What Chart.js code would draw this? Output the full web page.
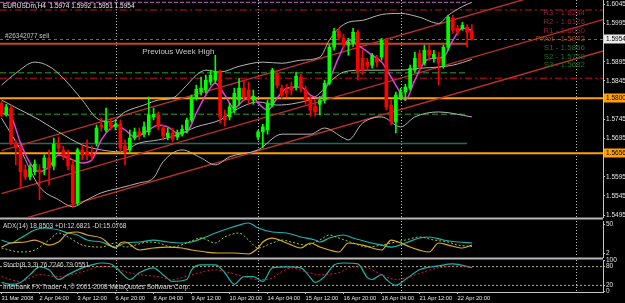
<!DOCTYPE html>
<html>
<head>
<meta charset="utf-8">
<title>EURUSDm,H4</title>
<script src="https://cdn.jsdelivr.net/npm/chart.js@4.4.1/dist/chart.umd.min.js"></script>
<style>
  html, body { margin: 0; padding: 0; background: #000; }
  #terminal { position: relative; width: 625px; height: 303px; background: #000; overflow: hidden; }
  #terminal canvas { position: absolute; left: 0; top: 0; }
</style>
</head>
<body>
<div id="terminal">
  <canvas id="priceChart" width="625" height="303"></canvas>
  <canvas id="adxChart" width="625" height="303"></canvas>
  <canvas id="stochChart" width="625" height="303"></canvas>
</div>
<script>
// ---- data ----
const symbol = 'EURUSDm,H4';
const timeLabels = ['31 Mar 2008', '2 Apr 04:00', '3 Apr 12:00', '6 Apr 20:00', '8 Apr 04:00', '9 Apr 12:00',
  '10 Apr 20:00', '14 Apr 04:00', '15 Apr 12:00', '16 Apr 20:00', '18 Apr 04:00', '21 Apr 12:00', '22 Apr 20:00'];
const labelEvery = 8; // bars between time labels

const opens = [1.5787, 1.5756, 1.5774, 1.5683, 1.5670, 1.5613, 1.5595, 1.5608, 1.5613, 1.5618,
  1.5644, 1.5623, 1.5680, 1.5665, 1.5652, 1.5626, 1.5527, 1.5665, 1.5660, 1.5654,
  1.5683, 1.5730, 1.5717, 1.5735, 1.5725, 1.5732, 1.5675, 1.5665, 1.5696, 1.5712,
  1.5706, 1.5712, 1.5751, 1.5756, 1.5722, 1.5699, 1.5709, 1.5699, 1.5706, 1.5717,
  1.5743, 1.5800, 1.5816, 1.5821, 1.5842, 1.5847, 1.5868, 1.5753, 1.5751, 1.5769,
  1.5795, 1.5826, 1.5821, 1.5795, 1.5699, 1.5712, 1.5717, 1.5782, 1.5865, 1.5826,
  1.5821, 1.5829, 1.5829, 1.5855, 1.5821, 1.5795, 1.5779, 1.5784, 1.5795, 1.5839,
  1.5933, 1.5974, 1.5956, 1.5938, 1.5943, 1.5972, 1.5904, 1.5894, 1.5886, 1.5904,
  1.5907, 1.5951, 1.5782, 1.5738, 1.5803, 1.5816, 1.5826, 1.5873, 1.5917, 1.5891,
  1.5925, 1.5904, 1.5907, 1.5886, 1.5933, 1.6008, 1.5982, 1.5982, 1.5985, 1.5974];
const highs = [1.5792, 1.5784, 1.5782, 1.5691, 1.5675, 1.5626, 1.5626, 1.5639, 1.5626, 1.5652,
  1.5665, 1.5696, 1.5699, 1.5675, 1.5665, 1.5639, 1.5670, 1.5678, 1.5691, 1.5675,
  1.5730, 1.5748, 1.5774, 1.5748, 1.5743, 1.5743, 1.5691, 1.5717, 1.5722, 1.5722,
  1.5738, 1.5803, 1.5774, 1.5764, 1.5730, 1.5722, 1.5722, 1.5717, 1.5730, 1.5748,
  1.5808, 1.5834, 1.5855, 1.5860, 1.5873, 1.5912, 1.5873, 1.5769, 1.5787, 1.5826,
  1.5852, 1.5847, 1.5842, 1.5821, 1.5717, 1.5732, 1.5795, 1.5878, 1.5873, 1.5834,
  1.5836, 1.5842, 1.5868, 1.5862, 1.5831, 1.5805, 1.5795, 1.5805, 1.5847, 1.5940,
  1.5982, 1.5982, 1.5966, 1.5956, 1.5982, 1.5977, 1.5925, 1.5904, 1.5917, 1.5912,
  1.5956, 1.5956, 1.5795, 1.5816, 1.5826, 1.5836, 1.5886, 1.5920, 1.5925, 1.5938,
  1.5938, 1.5925, 1.5920, 1.5938, 1.6016, 1.6016, 1.5990, 1.5998, 1.5992, 1.5992];
const lows = [1.5751, 1.5753, 1.5678, 1.5626, 1.5566, 1.5587, 1.5587, 1.5600, 1.5535, 1.5600,
  1.5574, 1.5613, 1.5660, 1.5639, 1.5613, 1.5514, 1.5522, 1.5639, 1.5639, 1.5639,
  1.5675, 1.5714, 1.5712, 1.5717, 1.5717, 1.5660, 1.5626, 1.5657, 1.5691, 1.5691,
  1.5699, 1.5704, 1.5743, 1.5717, 1.5691, 1.5691, 1.5686, 1.5691, 1.5701, 1.5709,
  1.5738, 1.5795, 1.5808, 1.5813, 1.5834, 1.5839, 1.5735, 1.5727, 1.5743, 1.5761,
  1.5782, 1.5795, 1.5784, 1.5784, 1.5691, 1.5670, 1.5706, 1.5777, 1.5826, 1.5800,
  1.5803, 1.5808, 1.5821, 1.5816, 1.5784, 1.5753, 1.5753, 1.5756, 1.5787, 1.5834,
  1.5925, 1.5951, 1.5930, 1.5912, 1.5935, 1.5847, 1.5862, 1.5873, 1.5878, 1.5883,
  1.5899, 1.5769, 1.5730, 1.5709, 1.5795, 1.5795, 1.5821, 1.5868, 1.5873, 1.5886,
  1.5899, 1.5894, 1.5834, 1.5878, 1.5925, 1.5969, 1.5964, 1.5977, 1.5933, 1.5951];
const closes = [1.5756, 1.5777, 1.5683, 1.5670, 1.5608, 1.5595, 1.5618, 1.5628, 1.5608, 1.5644,
  1.5618, 1.5680, 1.5670, 1.5649, 1.5623, 1.5527, 1.5665, 1.5652, 1.5652, 1.5649,
  1.5722, 1.5725, 1.5738, 1.5725, 1.5732, 1.5670, 1.5660, 1.5696, 1.5712, 1.5704,
  1.5725, 1.5756, 1.5758, 1.5725, 1.5701, 1.5709, 1.5693, 1.5709, 1.5719, 1.5743,
  1.5803, 1.5823, 1.5826, 1.5847, 1.5860, 1.5868, 1.5751, 1.5743, 1.5777, 1.5813,
  1.5826, 1.5803, 1.5795, 1.5805, 1.5712, 1.5725, 1.5787, 1.5873, 1.5834, 1.5808,
  1.5813, 1.5821, 1.5857, 1.5826, 1.5795, 1.5769, 1.5764, 1.5795, 1.5839, 1.5933,
  1.5974, 1.5959, 1.5938, 1.5946, 1.5972, 1.5868, 1.5873, 1.5883, 1.5912, 1.5894,
  1.5951, 1.5777, 1.5738, 1.5808, 1.5816, 1.5829, 1.5878, 1.5904, 1.5881, 1.5925,
  1.5912, 1.5914, 1.5891, 1.5933, 1.6011, 1.5977, 1.5972, 1.5990, 1.5972, 1.5954];

// magenta moving average and Bollinger bands (bar index, price)
const maIdx = [0, 2, 4, 6, 8, 10, 12, 14, 17, 19, 21, 23, 24, 26, 28, 30, 32, 33, 35, 37, 39, 41, 43, 45, 47,
  49, 51, 53, 54, 56, 58, 60, 63, 65, 67, 69, 71, 73, 76, 78, 80, 82, 84, 85, 87, 89, 91, 93, 95, 97, 99];
const maVal = [1.5761, 1.5751, 1.5683, 1.5631, 1.5608, 1.5621, 1.5652, 1.5644, 1.5631, 1.5639, 1.5691, 1.5722, 1.5730,
  1.5717, 1.5699, 1.5709, 1.5725, 1.5730, 1.5725, 1.5709, 1.5712, 1.5761, 1.5808, 1.5839, 1.5808, 1.5774, 1.5795,
  1.5803, 1.5787, 1.5769, 1.5800, 1.5826, 1.5829, 1.5808, 1.5800, 1.5847, 1.5907, 1.5951, 1.5930, 1.5912, 1.5894,
  1.5855, 1.5813, 1.5795, 1.5847, 1.5894, 1.5904, 1.5907, 1.5951, 1.5982, 1.5977];
const bbUpperIdx = [0, 3, 7, 10, 13, 17, 20, 23, 26, 30, 33, 36, 39, 41, 43, 46, 50, 55, 59, 63, 67, 69, 71, 73, 76,
  80, 84, 88, 92, 94, 97, 99];
const bbUpper = [1.5834, 1.5865, 1.5894, 1.5883, 1.5852, 1.5795, 1.5748, 1.5738, 1.5764, 1.5782, 1.5795, 1.5800,
  1.5834, 1.5860, 1.5873, 1.5868, 1.5883, 1.5894, 1.5891, 1.5899, 1.5907, 1.5951, 1.5982, 1.5998, 1.6003, 1.6018,
  1.6021, 1.6011, 1.5995, 1.6016, 1.6039, 1.6050];
const bbMidIdx = [0, 4, 8, 12, 17, 21, 25, 29, 33, 37, 41, 46, 50, 54, 58, 62, 66, 68, 70, 72, 76, 80, 84, 88, 92, 95, 99];
const bbMid = [1.5795, 1.5769, 1.5743, 1.5712, 1.5678, 1.5665, 1.5660, 1.5683, 1.5691, 1.5704, 1.5725, 1.5743,
  1.5774, 1.5790, 1.5782, 1.5787, 1.5803, 1.5826, 1.5852, 1.5868, 1.5873, 1.5873, 1.5873, 1.5878, 1.5881, 1.5886, 1.5901];
const bbLowerIdx = [0, 4, 8, 12, 15, 18, 21, 25, 29, 32, 34, 38, 42, 45, 48, 54, 59, 65, 68, 72, 73, 76, 80, 84, 87, 92, 99];
const bbLower = [1.5748, 1.5665, 1.5569, 1.5535, 1.5517, 1.5535, 1.5553, 1.5566, 1.5579, 1.5592, 1.5634, 1.5665,
  1.5644, 1.5626, 1.5647, 1.5665, 1.5706, 1.5706, 1.5722, 1.5696, 1.5691, 1.5735, 1.5751, 1.5725, 1.5751, 1.5764, 1.5751];

// rising channel: three parallel trend lines, price at the first and last bar of the view
const channelFrom = 0, channelTo = 126.6;
const channelStart = [1.5663, 1.5551, 1.5469];
const channelEnd = [1.6117, 1.6005, 1.5923];

// daily pivots (drawn up to the current bar) and other horizontal levels
const pivotNames = ['R3', 'R2', 'R1', 'Pivot', 'S1', 'S2', 'S3'];
const pivotValues = [1.6234, 1.6126, 1.6050, 1.5942, 1.5866, 1.5758, 1.5682];
const pivotEnd = 98;
const dashDotLevels = [1.6030, 1.5852];
const orangeLevels = [1.5800, 1.5656];
const orderTicket = '26342077';
const orderPrice = 1.5953;
const weekStarts = [24, 54, 84, 121];
const priceTicks = [1.6045, 1.5995, 1.5895, 1.5845, 1.5745, 1.5695, 1.5595, 1.5545, 1.5495];

// ADX(14)
const adxLast = [18.8503, 12.6821, 15.0768];
const adxTicks = [50, 2];
const adxIdx = [0, 2, 4, 7, 9, 12, 14, 16, 18, 21, 24, 26, 29, 32, 35, 38, 40, 43, 45, 48, 50, 52, 54, 57, 60,
  63, 66, 67, 69, 72, 74, 77, 80, 82, 85, 88, 90, 93, 96, 99];
const adxVal = [23.5, 18.6, 26.8, 40.1, 43.4, 40.1, 35.1, 31.8, 23.5, 20.2, 11.9, 18.6, 20.2, 23.5, 20.2, 18.6,
  20.2, 28.5, 35.1, 43.4, 48.3, 51.7, 43.4, 36.8, 35.1, 28.5, 23.5, 20.2, 26.8, 31.8, 26.8, 20.2, 15.2, 11.9,
  18.6, 26.8, 28.5, 23.5, 20.2, 18.8503];
const plusDiIdx = [0, 4, 7, 10, 12, 14, 17, 21, 24, 26, 31, 33, 36, 39, 42, 45, 47, 50, 52, 54, 57, 59, 61, 64,
  67, 69, 71, 74, 77, 80, 82, 85, 88, 91, 94, 96, 99];
const plusDiVal = [10.3, 3.7, 7.0, 23.5, 35.1, 28.5, 15.2, 11.9, 18.6, 11.9, 20.2, 18.6, 11.9, 18.6, 26.8, 18.6,
  28.5, 35.1, 23.5, 10.3, 18.6, 23.5, 20.2, 15.2, 23.5, 31.8, 26.8, 18.6, 11.9, 15.2, 18.6, 23.5, 28.5, 23.5,
  20.2, 15.2, 12.6821];
const minusDiIdx = [0, 2, 5, 7, 10, 12, 14, 16, 18, 21, 24, 25, 26, 29, 32, 35, 38, 40, 43, 46, 49, 52, 54, 55,
  57, 60, 63, 65, 67, 69, 71, 73, 76, 80, 82, 84, 86, 90, 92, 94, 97, 99];
const minusDiVal = [11.9, 18.6, 20.2, 23.5, 15.2, 20.2, 35.1, 36.8, 31.8, 26.8, 10.3, 18.6, 20.2, 7.0, 10.3, 11.9,
  10.3, 7.0, 3.7, 2.0, 2.0, 0.4, 10.3, 20.2, 26.8, 18.6, 10.3, 18.6, 11.9, 7.0, 3.7, 18.6, 15.2, 7.0, 23.5, 18.6,
  11.9, 3.7, 18.6, 15.2, 10.3, 15.0768];

// Stochastic(8,3,3)
const stochLast = [76.7246, 79.0551];
const stochTicks = [100, 80, 20, 0];
const stochLevels = [80, 20];
const stochIdx = [0, 2, 4, 6, 8, 10, 12, 14, 17, 19, 21, 23, 25, 27, 29, 32, 34, 36, 39, 40, 42, 45, 47, 49, 51,
  53, 55, 57, 60, 63, 65, 66, 68, 70, 72, 75, 77, 78, 80, 81, 83, 85, 88, 92, 95, 99];
const stochMain = [29.5, 23.3, 29.5, 54.3, 79.1, 69.8, 38.8, 54.3, 76.0, 85.3, 91.5, 88.4, 63.6, 38.8, 60.5, 76.0,
  54.3, 32.6, 38.8, 69.8, 85.3, 85.3, 60.5, 23.3, 48.1, 48.1, 32.6, 76.0, 79.1, 76.0, 45.0, 29.5, 48.1, 85.3,
  91.5, 88.4, 45.0, 38.8, 54.3, 38.8, 20.2, 38.8, 69.8, 82.2, 88.4, 76.7246];
const signalIdx = [0, 4, 8, 12, 17, 21, 23, 26, 29, 33, 36, 40, 45, 48, 51, 54, 56, 59, 61, 64, 67, 71, 74, 77,
  80, 83, 86, 89, 92, 96, 99];
const stochSignal = [48.1, 32.6, 54.3, 48.1, 63.6, 79.1, 79.1, 63.6, 54.3, 48.1, 38.8, 54.3, 69.8, 60.5, 48.1,
  38.8, 38.8, 63.6, 76.0, 63.6, 54.3, 60.5, 79.1, 76.0, 54.3, 38.8, 48.1, 63.6, 76.0, 82.2, 79.0551];

// ---- chart setup ----
Chart.defaults.font.family = '"Liberation Sans", Arial, sans-serif';
Chart.defaults.color = '#e0e0e0';

const xMin = -0.32, xMax = 126.6;
const axisWidth = 22;
const frameGrey = '#c4c4c4';
const bull = '#00ff00', bear = '#ff0000';
const candleColor = c => closes[c.dataIndex] >= opens[c.dataIndex] ? bull : bear;

function points(idx, vals) {
  return idx.map((x, k) => ({ x, y: vals[k] }));
}

function curve(data, color, width, dash) {
  return { type: 'line', data, borderColor: color, borderWidth: width, borderDash: dash || [],
    pointRadius: 0, cubicInterpolationMode: 'monotone', order: 2 };
}

function level(price, from, to, color, width, dash) {
  return { type: 'line', data: [{ x: from, y: price }, { x: to, y: price }], borderColor: color,
    borderWidth: width, borderDash: dash || [], pointRadius: 0, order: 4 };
}

function hiddenX() {
  return { type: 'linear', min: xMin, max: xMax, offset: false, display: false };
}

function rightAxis(min, max, values, fmt) {
  return {
    position: 'right', min, max,
    afterBuildTicks: s => { s.ticks = values.map(v => ({ value: v })); },
    afterFit: s => { s.width = axisWidth; s.paddingTop = 0; s.paddingBottom = 0; },
    grid: { drawOnChartArea: false, drawTicks: true, tickLength: 2, color: frameGrey },
    border: { display: true, color: frameGrey },
    ticks: { padding: 1, autoSkip: false, font: { size: 6.5 }, color: '#e4e4e4', callback: fmt }
  };
}

function baseOptions(padding, scales) {
  return {
    responsive: false, animation: false, events: [],
    layout: { padding },
    plugins: { legend: { display: false }, tooltip: { enabled: false } },
    scales
  };
}

function drawWeekLines(chart) {
  const { ctx, chartArea: a, scales: { x } } = chart;
  ctx.save();
  ctx.strokeStyle = '#bcbcbc';
  ctx.lineWidth = 1;
  ctx.setLineDash([1, 2]);
  weekStarts.forEach(v => {
    const px = Math.round(x.getPixelForValue(v)) + 0.5;
    ctx.beginPath();
    ctx.moveTo(px, a.top);
    ctx.lineTo(px, a.bottom);
    ctx.stroke();
  });
  ctx.restore();
}

function pivotLineStyle(name) {
  if (name === 'Pivot') return ['#c4461e', 2, []];
  if (name === 'S3') return ['#1d6b5d', 1.5, []];
  if (name[0] === 'S') return ['#1f6a1f', 1.5, [6, 3]];
  return ['#c464c4', 1, [4, 2]];
}

function pivotTextColor(name) {
  if (name === 'Pivot') return '#a8461a';
  return name[0] === 'S' ? '#1f6e1f' : '#93203c';
}

// ---- price window ----
const priceDatasets = [
  { type: 'bar', data: lows.map((l, i) => ({ x: i, y: [l, highs[i]] })), backgroundColor: candleColor,
    barThickness: 1, grouped: false, borderWidth: 0, order: 1 },
  { type: 'bar', data: opens.map((o, i) => ({ x: i, y: [o, closes[i]] })), backgroundColor: candleColor,
    barThickness: 3, minBarLength: 1, grouped: false, borderWidth: 0, order: 0 },
  curve(points(maIdx, maVal), '#e040e0', 1.5),
  curve(points(bbUpperIdx, bbUpper), '#b4b4b4', 1),
  curve(points(bbMidIdx, bbMid), '#b4b4b4', 1),
  curve(points(bbLowerIdx, bbLower), '#b4b4b4', 1)
];
channelStart.forEach((p, k) => {
  priceDatasets.push({ type: 'line', data: [{ x: channelFrom, y: p }, { x: channelTo, y: channelEnd[k] }],
    borderColor: '#b8322a', borderWidth: 1.4, pointRadius: 0, order: 3 });
});
pivotNames.forEach((n, k) => {
  const [c, w, d] = pivotLineStyle(n);
  priceDatasets.push(level(pivotValues[k], xMin, pivotEnd, c, w, d));
});
dashDotLevels.forEach(p => priceDatasets.push(level(p, xMin, xMax, '#cc1020', 1, [7, 3, 2, 3])));
orangeLevels.forEach(p => priceDatasets.push(level(p, xMin, xMax, '#ffa200', 2)));
priceDatasets.push(level(orderPrice, xMin, xMax, '#2f9a2f', 1, [3, 3]));

const priceDecor = {
  id: 'priceDecor',
  beforeDatasetsDraw: drawWeekLines,
  afterDraw(chart) {
    const { ctx, chartArea: a, scales: { x, y } } = chart;
    const last = opens.length - 1;
    ctx.save();
    ctx.fillStyle = '#b8b8b8';
    ctx.fillRect(0, a.bottom + 0.5, a.right, 2);
    ctx.textBaseline = 'middle';
    ctx.font = '6.5px "Liberation Sans"';
    ctx.fillStyle = '#e8e8e8';
    ctx.fillText(`${symbol}  ${opens[last].toFixed(4)} ${highs[last].toFixed(4)} ${lows[last].toFixed(4)} ${closes[last].toFixed(4)}`, 3, 6);
    ctx.fillStyle = '#c8c8c8';
    ctx.fillText(`#${orderTicket} sell`, 5, y.getPixelForValue(orderPrice) - 3.5);
    ctx.font = '8px "Liberation Sans"';
    ctx.fillText('Previous Week High', x.getPixelForValue(29.6), y.getPixelForValue(1.5920));
    ctx.font = '8px "Liberation Sans"';
    ctx.textAlign = 'right';
    pivotNames.forEach((n, k) => {
      ctx.fillStyle = pivotTextColor(n);
      ctx.fillText(`${n} - ${pivotValues[k].toFixed(4)}`, a.right - 18, 13 + k * 8.7);
    });
    // marked prices on the axis
    ctx.textAlign = 'left';
    ctx.font = '6.5px "Liberation Sans"';
    [closes[last]].concat(orangeLevels).forEach((p, k) => {
      const py = Math.round(y.getPixelForValue(p));
      ctx.fillStyle = k === 0 ? '#ececec' : '#ffa200';
      ctx.fillRect(a.right + 1, py - 4.5, axisWidth - 1, 9);
      ctx.fillStyle = '#000';
      ctx.fillText(p.toFixed(4), a.right + 3, py);
    });
    ctx.restore();
  }
};

new Chart(document.getElementById('priceChart'), {
  type: 'bar',
  data: { datasets: priceDatasets },
  options: baseOptions({ left: 0, right: 0, top: 0, bottom: 86 }, {
    x: hiddenX(),
    y: rightAxis(1.5490, 1.6056, priceTicks, v => v.toFixed(4))
  }),
  plugins: [priceDecor]
});

// ---- ADX window ----
new Chart(document.getElementById('adxChart'), {
  type: 'line',
  data: { datasets: [
    curve(points(plusDiIdx, plusDiVal), '#9acd32', 1, [2, 2]),
    curve(points(minusDiIdx, minusDiVal), '#dcaa28', 1.2),
    curve(points(adxIdx, adxVal), '#20b2aa', 1.2)
  ] },
  options: baseOptions({ left: 0, right: 0, top: 221, bottom: 46 }, {
    x: hiddenX(),
    y: rightAxis(-4.6, 55, adxTicks, v => String(v))
  }),
  plugins: [{
    id: 'adxDecor',
    beforeDatasetsDraw: drawWeekLines,
    afterDraw(chart) {
      const { ctx, chartArea: a } = chart;
      ctx.save();
      ctx.fillStyle = '#b8b8b8';
      ctx.fillRect(0, a.bottom + 0.5, a.right, 2);
      ctx.font = '6.5px "Liberation Sans"';
      ctx.fillStyle = '#d8d8d8';
      ctx.textBaseline = 'middle';
      ctx.fillText(`ADX(14) ${adxLast[0].toFixed(4)} +DI:${adxLast[1].toFixed(4)} -DI:${adxLast[2].toFixed(4)}`, 3, a.top + 5);
      ctx.restore();
    }
  }]
});

// ---- Stochastic window ----
const stochDatasets = stochLevels.map(v => level(v, xMin, xMax, '#b4ac86', 1, [2, 2]));
stochDatasets.push(curve(points(signalIdx, stochSignal), '#dc143c', 1, [2, 2]));
stochDatasets.push(curve(points(stochIdx, stochMain), '#20b2aa', 1.2));

new Chart(document.getElementById('stochChart'), {
  type: 'line',
  data: { datasets: stochDatasets },
  options: baseOptions({ left: 0, right: 0, top: 260, bottom: 0 }, {
    x: {
      type: 'linear', min: xMin, max: xMax, offset: false,
      afterBuildTicks: s => { s.ticks = timeLabels.map((t, k) => ({ value: k * labelEvery })); },
      afterFit: s => { s.height = 11; s.paddingLeft = 0; s.paddingRight = 0; },
      grid: { drawOnChartArea: false, drawTicks: true, tickLength: 2, color: frameGrey },
      border: { display: true, color: frameGrey },
      ticks: { align: 'start', autoSkip: false, maxRotation: 0, minRotation: 0, padding: 1,
        font: { size: 5.7 }, color: '#e4e4e4', callback: (v, k) => timeLabels[k] }
    },
    y: rightAxis(-1, 101, stochTicks, v => String(v))
  }),
  plugins: [{
    id: 'stochDecor',
    beforeDatasetsDraw: drawWeekLines,
    afterDraw(chart) {
      const { ctx, chartArea: a } = chart;
      ctx.save();
      ctx.font = '6.5px "Liberation Sans"';
      ctx.fillStyle = '#d8d8d8';
      ctx.textBaseline = 'middle';
      ctx.fillText(`Stoch(8,3,3) ${stochLast[0].toFixed(4)} ${stochLast[1].toFixed(4)}`, 3, a.top + 5);
      ctx.fillText('Interbank FX Trader 4, \u00a9 2001-2008 MetaQuotes Software Corp.', 3, a.bottom - 5);
      ctx.restore();
    }
  }]
});
</script>
</body>
</html>
